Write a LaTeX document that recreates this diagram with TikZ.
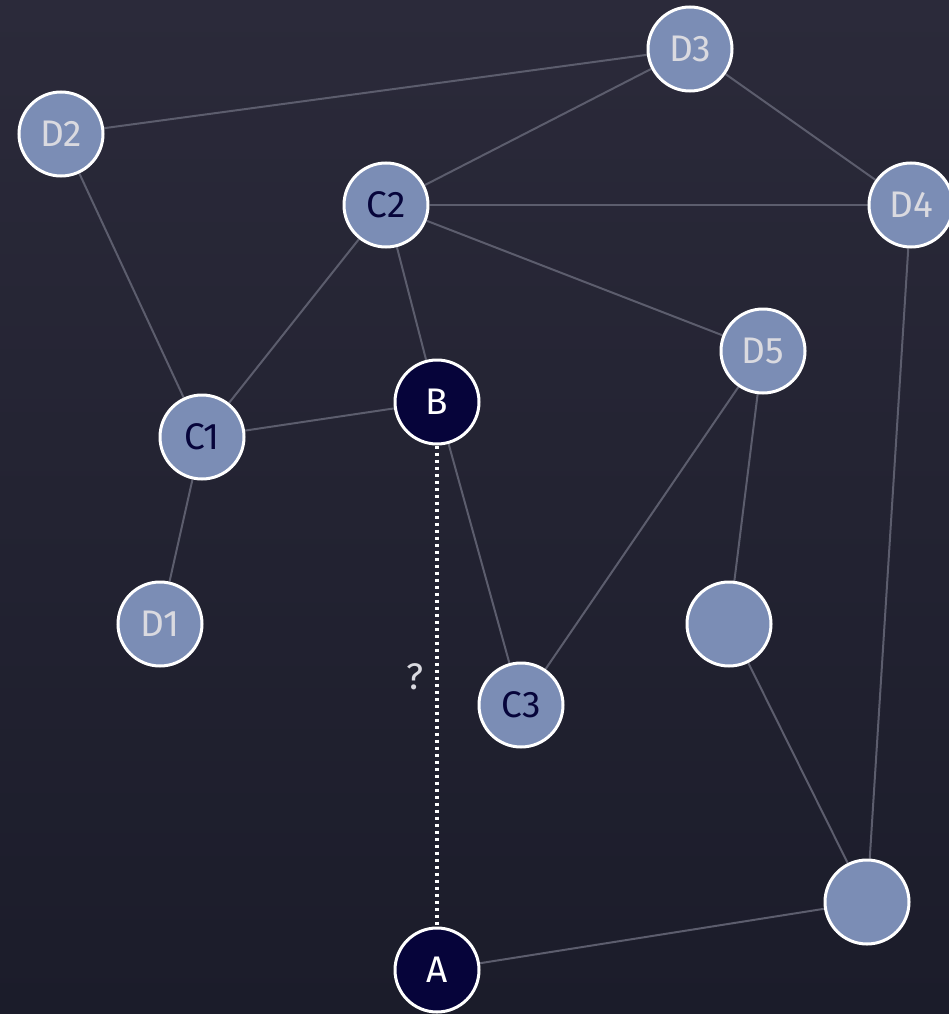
\documentclass[tikz,border=0pt]{standalone}
\usepackage{fontspec}
\setmainfont{Fira Sans}
\definecolor{bgtop}{HTML}{2B2A3A}
\definecolor{bgbottom}{HTML}{1B1C2A}
\definecolor{nodeblue}{HTML}{7B8DB5}
\definecolor{nodenavy}{HTML}{06043A}
\definecolor{edgegray}{HTML}{5C5D6D}
\definecolor{labelgray}{HTML}{DADAE0}
\usetikzlibrary{backgrounds}

\begin{document}
\begin{tikzpicture}[x=1pt, y=-1pt,
  vertex/.style={circle, draw=white, line width=3pt, minimum size=84pt, inner sep=0pt,
    font=\fontsize{37}{37}\selectfont},
  known/.style={vertex, fill=nodeblue, text=nodenavy},
  remote/.style={vertex, fill=nodeblue, text=labelgray},
  target/.style={vertex, fill=nodenavy, text=white},
  link/.style={draw=edgegray, line width=2pt},
  unknown/.style={draw=white, line width=3.2pt, dash pattern=on 3pt off 4pt}]

  \useasboundingbox (0,0) rectangle (949,1014);

  % nodes
  \node[remote] (D2) at (61,134) {D2};
  \node[remote] (D3) at (690,49) {D3};
  \node[remote] (D4) at (911,205) {D4};
  \node[remote] (D5) at (763,351) {D5};
  \node[remote] (D1) at (160,624) {D1};
  \node[remote] (E1) at (729,624) {};
  \node[remote] (E2) at (867,902) {};
  \node[known] (C1) at (202,437) {C1};
  \node[known] (C2) at (386,205) {C2};
  \node[known] (C3) at (521,705) {C3};
  \node[target] (B) at (437,402) {B};
  \node[target] (A) at (437,970) {A};
  \node[text=labelgray, font=\fontsize{37}{37}\selectfont] (q) at (415,677) {?};

  \begin{pgfonlayer}{background}
    \fill[top color=bgtop, bottom color=bgbottom] (0,0) rectangle (949,1014);
    % edges
    \draw[link] (D2) -- (D3);
    \draw[link] (D2) -- (C1);
    \draw[link] (D3) -- (C2);
    \draw[link] (D3) -- (D4);
    \draw[link] (C2) -- (D4);
    \draw[link] (C2) -- (C1);
    \draw[link] (C2) -- (B);
    \draw[link] (C2) -- (D5);
    \draw[link] (C1) -- (B);
    \draw[link] (C1) -- (D1);
    \draw[link] (B) -- (C3);
    \draw[link] (D5) -- (C3);
    \draw[link] (D5) -- (E1);
    \draw[link] (D4) -- (E2);
    \draw[link] (E1) -- (E2);
    \draw[link] (A) -- (E2);
    \draw[unknown] (B) -- (A);
  \end{pgfonlayer}
\end{tikzpicture}
\end{document}
